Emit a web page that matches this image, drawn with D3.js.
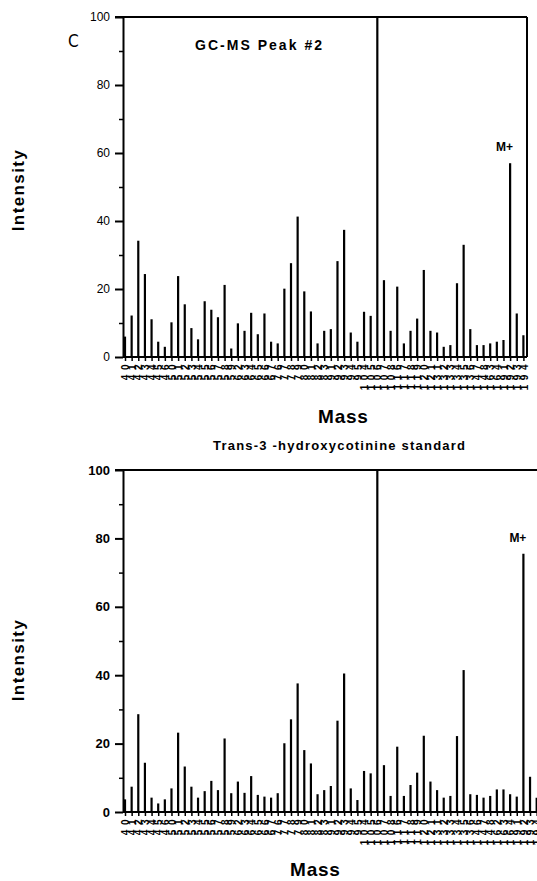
<!DOCTYPE html>
<html>
<head>
<meta charset="utf-8">
<script src="https://cdn.jsdelivr.net/npm/d3@7"></script>
<style>
  body { margin: 0; background: #fff; }
  svg { display: block; font-family: "Liberation Sans", Arial, Helvetica, sans-serif; }
  .axis path, .axis line { stroke: #000; }
  .axis text { fill: #000; }
</style>
</head>
<body>
<div id="chart"></div>
<script>
// data
const topMasses = [40,41,42,43,44,45,46, 50,51,52,53,54,55,56,57,58,59,
  62,63,64,65,66,67, 76,77,78,79, 80,81,82,83,91,92,93,94,95,
  104,105,106,107,108, 116,117,118,119, 120,121,131,132,133,134,135,136,
  147,148,163,164, 191,192,193,194];
const topValues = [6.0,12.2,34.2,24.4,11.1,4.5,3.0, 10.2,23.8,15.5,8.5,5.2,16.4,13.9,11.7,21.2,2.5,
  9.9,7.7,13.0,6.7,12.8,4.5, 4.0,20.1,27.6,41.3, 19.3,13.4,4.0,7.7,8.2,28.2,37.4,7.2,4.5,
  13.3,12.1,100,22.6,7.7, 20.7,4.0,7.7,11.3, 25.6,7.7,7.2,3.0,3.5,21.7,33.0,8.2,
  3.5,3.5,4.0,4.5, 5.0,57.0,12.8,6.4];

const bottomMasses = [40,41,42,43,44,45,46, 50,51,52,53,54,55,56,57,58,59,
  62,63,64,65,66,67, 76,77,78,79, 80,81,82,83,91,92,93,94,95,
  104,105,106,107,108, 116,117,118,119, 120,121,131,132,133,134,135,136,
  146,147,148,162,163,164, 191,192,193,194];
const bottomValues = [3.7,7.4,28.6,14.4,4.2,2.5,3.7, 6.9,23.2,13.3,7.4,4.2,6.1,9.1,6.4,21.5,5.5,
  8.9,5.6,10.5,5.0,4.5,4.2, 5.5,20.1,27.1,37.6, 18.1,14.2,5.2,6.4,7.6,26.7,40.5,6.9,3.5,
  12.0,11.3,100,13.7,4.7, 19.1,4.7,7.9,11.5, 22.3,8.9,6.4,4.2,4.7,22.2,41.5,5.2,
  5.0,4.2,4.7,6.6,6.6,5.2, 4.5,75.5,10.3,4.2];

const majorTicks = [0,20,40,60,80,100];
const minorTicks = [10,30,50,70,90];

const W = 537, H = 881;
const svg = d3.select('#chart').append('svg')
  .attr('width', W).attr('height', H);

function drawPanel(masses, values, o) {
  const g = svg.append('g');

  const x = d3.scalePoint()
    .domain(masses.map(String))
    .range([o.x0, o.x0 + o.step * (masses.length - 1)]);
  const y = d3.scaleLinear().domain([0, 100]).range([o.yZero, o.yTop]);

  // spectrum lines
  g.selectAll('.bar')
    .data(masses.map((m, i) => ({m: String(m), v: values[i]})))
    .enter().append('line')
    .attr('class', 'bar')
    .attr('x1', d => x(d.m)).attr('x2', d => x(d.m))
    .attr('y1', y(0)).attr('y2', d => y(d.v))
    .attr('stroke', '#000').attr('stroke-width', 2.2);

  // x axis with rotated mass labels
  const axX = g.append('g').attr('class', 'axis')
    .attr('transform', `translate(0,${o.yZero})`)
    .call(d3.axisBottom(x).tickSize(4).tickSizeOuter(0));
  axX.select('.domain')
    .attr('d', `M${o.axisX},0H${o.frameRight}`)
    .attr('stroke-width', 2);
  axX.selectAll('.tick line').attr('stroke-width', 1.5);
  axX.selectAll('.tick text')
    .attr('transform', 'rotate(-90)')
    .attr('text-anchor', 'end')
    .attr('x', -o.labelGap).attr('y', 0).attr('dy', '0.36em')
    .style('font-size', '10px')
    .style('font-weight', 'bold')
    .style('letter-spacing', '4.5px');

  // y axis, major + minor ticks
  const axY = g.append('g').attr('class', 'axis')
    .attr('transform', `translate(${o.axisX},0)`)
    .call(d3.axisLeft(y).tickValues(majorTicks).tickSize(8).tickPadding(5).tickSizeOuter(0));
  axY.select('.domain').attr('stroke-width', 2);
  axY.selectAll('.tick line').attr('stroke-width', 2);
  axY.selectAll('.tick text')
    .style('font-size', o.tickFont + 'px')
    .style('font-weight', o.tickWeight);
  const axYm = g.append('g').attr('class', 'axis')
    .attr('transform', `translate(${o.axisX},0)`)
    .call(d3.axisLeft(y).tickValues(minorTicks).tickSize(4).tickFormat(''));
  axYm.select('.domain').remove();
  axYm.selectAll('.tick line').attr('stroke-width', 1.5);

  // frame: top and right
  g.append('line')
    .attr('x1', o.axisX - 8).attr('x2', o.frameRight)
    .attr('y1', y(100)).attr('y2', y(100))
    .attr('stroke', '#000').attr('stroke-width', 2);
  g.append('line')
    .attr('x1', o.frameRight).attr('x2', o.frameRight)
    .attr('y1', y(100)).attr('y2', y(0))
    .attr('stroke', '#000').attr('stroke-width', 2);

  // titles
  g.append('text')
    .attr('transform', `translate(${o.yTitleX},${o.yTitleY}) rotate(-90)`)
    .attr('text-anchor', 'middle')
    .style('font-size', '17px').style('font-weight', 'bold')
    .style('letter-spacing', '1.4px')
    .text('Intensity');
  g.append('text')
    .attr('x', o.massX).attr('y', o.massY)
    .style('font-size', '19px').style('font-weight', 'bold')
    .style('letter-spacing', '0.8px')
    .text('Mass');

  // M+ annotation
  const mIdx = masses.indexOf(192);
  g.append('text')
    .attr('x', x('192') + 3).attr('y', y(values[mIdx]) - 12)
    .attr('text-anchor', 'end')
    .style('font-size', '12px').style('font-weight', 'bold')
    .text('M+');

  return g;
}

drawPanel(topMasses, topValues, {
  x0: 125, step: 6.64, yTop: 17, yZero: 357, axisX: 123, frameRight: 527,
  labelGap: 3, tickFont: 12, tickWeight: 'normal',
  yTitleX: 24, yTitleY: 190, massX: 318, massY: 423
});

drawPanel(bottomMasses, bottomValues, {
  x0: 125, step: 6.64, yTop: 470, yZero: 812, axisX: 123, frameRight: 540,
  labelGap: 3, tickFont: 13, tickWeight: 'bold',
  yTitleX: 24, yTitleY: 660, massX: 290, massY: 876
});

// panel letter and panel headings
svg.append('text')
  .attr('x', 68).attr('y', 47)
  .style('font-family', '"DejaVu Sans Condensed", "DejaVu Sans", sans-serif')
  .style('font-size', '17px').style('font-weight', 200)
  .text('C');

svg.append('text')
  .attr('x', 195).attr('y', 50)
  .style('font-size', '14px').style('font-weight', 'bold')
  .attr('textLength', 127).attr('lengthAdjust', 'spacing')
  .text('GC-MS Peak #2');

svg.append('text')
  .attr('x', 213).attr('y', 450)
  .style('font-size', '13px').style('font-weight', 'bold')
  .attr('textLength', 252).attr('lengthAdjust', 'spacing')
  .text('Trans-3 -hydroxycotinine standard');
</script>
</body>
</html>
